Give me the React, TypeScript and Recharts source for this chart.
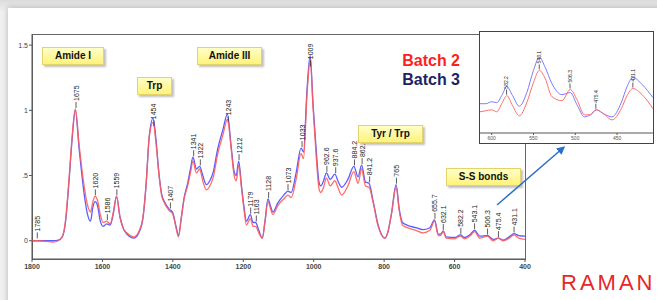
import React from "react"
import {
  ComposedChart,
  Line,
  Scatter,
  XAxis,
  YAxis,
} from "recharts"

// main spectrum (wavenumber, cm-1)
const wavenumbers = [
  1800, 1785, 1760, 1740, 1725, 1714, 1705, 1695, 1686, 1677, 1666, 1652, 1643,
  1634, 1627, 1621, 1614, 1606, 1598, 1588, 1578, 1569, 1560, 1550, 1540, 1530,
  1510, 1495, 1485, 1476, 1467, 1456, 1448, 1440, 1432, 1424, 1410, 1401, 1391,
  1384, 1376, 1368, 1358, 1350, 1343, 1333, 1324, 1315, 1305, 1295, 1285, 1273,
  1258, 1245, 1235, 1226, 1220, 1213, 1205, 1198, 1191, 1180, 1172, 1165, 1156,
  1146, 1138, 1130, 1122, 1116, 1102, 1085, 1073, 1064, 1050, 1036, 1029, 1019,
  1010, 1002, 993, 985, 980, 972, 964, 953, 940, 930, 921, 903, 886, 874, 864,
  853, 843, 831, 817, 808, 798, 789, 779, 766, 757, 748, 735, 710, 690, 670, 657,
  646, 640, 632, 624, 600, 583, 572, 555, 543, 528, 507, 490, 476, 462, 445, 431,
  418, 400,
]
const batch2 = [
  0, 0, -0.005, -0.01, 0, 0.03, 0.15, 0.47, 0.8, 1.01, 0.73, 0.42, 0.28, 0.22,
  0.3, 0.34, 0.31, 0.2, 0.14, 0.15, 0.13, 0.22, 0.34, 0.18, 0.09, 0.06, 0.03,
  0.08, 0.18, 0.43, 0.8, 0.91, 0.75, 0.52, 0.35, 0.29, 0.23, 0.21, 0.1, 0.03,
  0.17, 0.32, 0.42, 0.52, 0.61, 0.52, 0.55, 0.46, 0.39, 0.42, 0.49, 0.66, 0.81,
  0.93, 0.72, 0.5, 0.46, 0.58, 0.4, 0.24, 0.12, 0.17, 0.11, 0.11, 0.06, 0.02,
  0.15, 0.3, 0.24, 0.2, 0.27, 0.32, 0.35, 0.33, 0.47, 0.67, 0.63, 1.12, 1.39,
  1.03, 0.65, 0.4, 0.37, 0.41, 0.48, 0.42, 0.46, 0.4, 0.35, 0.42, 0.53, 0.44,
  0.55, 0.42, 0.41, 0.29, 0.11, 0.05, 0.02, 0.07, 0.21, 0.41, 0.23, 0.12, 0.1,
  0.08, 0.06, 0.08, 0.15, 0.04, 0.04, 0.07, 0.02, 0.015, 0.035, 0.015, 0.04,
  0.07, 0.02, 0.035, 0, 0.02, 0, 0.02, 0.045, 0.02, 0.01,
]
const batch3 = [
  0, 0, 0, 0, 0.005, 0.03, 0.14, 0.45, 0.78, 1.0, 0.7, 0.36, 0.21, 0.15, 0.26,
  0.3, 0.27, 0.15, 0.11, 0.13, 0.12, 0.21, 0.34, 0.18, 0.09, 0.05, 0.02, 0.07,
  0.17, 0.43, 0.8, 0.94, 0.78, 0.53, 0.36, 0.3, 0.24, 0.22, 0.11, 0.04, 0.18,
  0.33, 0.44, 0.55, 0.64, 0.55, 0.57, 0.5, 0.43, 0.46, 0.53, 0.7, 0.85, 0.97,
  0.74, 0.53, 0.5, 0.61, 0.42, 0.26, 0.15, 0.2, 0.14, 0.14, 0.08, 0.02, 0.16,
  0.32, 0.26, 0.22, 0.29, 0.35, 0.38, 0.37, 0.52, 0.71, 0.68, 1.16, 1.42, 1.05,
  0.7, 0.45, 0.42, 0.46, 0.52, 0.47, 0.51, 0.45, 0.41, 0.47, 0.57, 0.49, 0.58,
  0.45, 0.44, 0.3, 0.12, 0.05, 0.02, 0.07, 0.21, 0.43, 0.24, 0.14, 0.12, 0.1,
  0.085, 0.1, 0.16, 0.05, 0.05, 0.075, 0.03, 0.025, 0.045, 0.025, 0.05, 0.08,
  0.035, 0.04, 0.01, 0.02, 0.005, 0.03, 0.055, 0.04, 0.035,
]

const peakLabels = [
  "1785", "1675", "1620", "1586", "1559", "1454", "1407", "1341", "1322", "1243",
  "1212", "1179", "1163", "1128", "1073", "1033", "1009", "962.6", "937.6",
  "884.2", "862.5", "841.2", "765", "655.7", "632.1", "582.2", "543.1", "506.3",
  "475.4", "431.1",
]
// where each label's leader line starts
const peakTops = [
  0.01, 1.01, 0.34, 0.15, 0.34, 0.87, 0.24, 0.64, 0.57, 0.9, 0.61, 0.2, 0.14,
  0.32, 0.38, 0.71, 1.33, 0.52, 0.51, 0.57, 0.58, 0.44, 0.43, 0.16, 0.075, 0.045,
  0.08, 0.04, 0.02, 0.055,
]

const xTicks = [1800, 1600, 1400, 1200, 1000, 800, 600, 400]
const yTicks = [0, 0.5, 1, 1.5]

// inset: zoom on the S-S region
const insetX = [
  614, 607, 600, 594, 588, 582, 575, 567, 558, 550, 543, 536, 528, 516, 506, 498,
  489, 482, 475, 466, 456, 445, 438, 431, 420, 407,
]
const insetBatch2 = [
  0.21, 0.22, 0.23, 0.21, 0.29, 0.37, 0.27, 0.17, 0.3, 0.5, 0.62, 0.54, 0.36,
  0.32, 0.43, 0.33, 0.18, 0.18, 0.23, 0.19, 0.13, 0.24, 0.37, 0.44, 0.38, 0.24,
]
const insetBatch3 = [
  0.29, 0.29, 0.31, 0.3, 0.37, 0.46, 0.37, 0.265, 0.4, 0.62, 0.75, 0.65, 0.49,
  0.38, 0.4, 0.28, 0.16, 0.18, 0.23, 0.19, 0.16, 0.3, 0.46, 0.55, 0.48, 0.35,
]
const insetLabels = ["582.2", "543.1", "506.3", "475.4", "431.1"]
const insetTops = [0.37, 0.62, 0.43, 0.23, 0.44]
const insetTicks = [600, 550, 500, 450]

const RED = "#ff5c5c"
const BLUE = "#5c5cff"
const FONT = "'Liberation Sans', Arial, sans-serif"

const spectrum = wavenumbers.map((x, i) => ({ x, b2: batch2[i], b3: batch3[i] }))
const peaks = peakLabels.map((label, i) => ({
  x: parseFloat(label),
  y: peakTops[i],
  label,
}))
const inset = insetX.map((x, i) => ({ x, b2: insetBatch2[i], b3: insetBatch3[i] }))
const insetPeaks = insetLabels.map((label, i) => ({
  x: parseFloat(label),
  y: insetTops[i],
  label,
}))

function PeakMark({ cx, cy, label, fs, lead }: any) {
  if (cx == null || cy == null) return null
  return (
    <g>
      <line x1={cx} y1={cy - 1} x2={cx} y2={cy - lead} stroke="#333" strokeWidth={0.8} />
      <text
        transform={`translate(${cx + fs * 0.36},${cy - lead - 1}) rotate(-90)`}
        fontSize={fs}
        fontFamily={FONT}
        fill="#222"
      >
        {label}
      </text>
    </g>
  )
}

function Tag({ text, left, top, width }: { text: string; left: number; top: number; width: number }) {
  return (
    <div
      style={{
        position: "absolute",
        left,
        top,
        width,
        height: 18,
        boxSizing: "border-box",
        background: "linear-gradient(#ffffc8, #fff27a)",
        border: "1px solid #e3d36a",
        boxShadow: "2px 2px 2px rgba(0,0,0,0.25)",
        fontFamily: FONT,
        fontWeight: 700,
        fontSize: 10,
        lineHeight: "16px",
        textAlign: "center",
        color: "#111",
      }}
    >
      {text}
    </div>
  )
}

export default function App() {
  return (
    <div
      style={{
        position: "absolute",
        left: 0,
        top: 0,
        width: 657,
        height: 300,
        overflow: "hidden",
        background: "linear-gradient(#dcdcdc, #f0f0f0 12px)",
        fontFamily: FONT,
      }}
    >
      <div
        style={{
          position: "absolute",
          left: 8,
          top: 8,
          width: 660,
          height: 300,
          background: "#fff",
          boxShadow: "0 0 6px rgba(0,0,0,0.25)",
        }}
      />
      {/* plot frame */}
      <div
        style={{
          position: "absolute",
          left: 32,
          top: 34,
          width: 494,
          height: 226,
          boxSizing: "border-box",
          border: "1px solid #666",
        }}
      />
      <div style={{ position: "absolute", left: 0, top: 0 }}>
        <ComposedChart
          width={657}
          height={300}
          data={spectrum}
          margin={{ top: 34, right: 132, bottom: 21, left: 12 }}
        >
          <XAxis
            dataKey="x"
            type="number"
            domain={[400, 1800]}
            reversed
            ticks={xTicks}
            height={20}
            tickSize={3}
            tickMargin={2}
            stroke="#555"
            tick={{ fontSize: 7, fill: "#444", fontFamily: FONT, fontWeight: 700 }}
            allowDataOverflow
          />
          <YAxis
            type="number"
            domain={[-0.14, 1.585]}
            ticks={yTicks}
            width={20}
            tickSize={3}
            tickMargin={1}
            stroke="#555"
            tick={{ fontSize: 7, fill: "#444", fontFamily: FONT }}
            tickFormatter={(v: number) => (v === 0.5 ? ".5" : String(v))}
            allowDataOverflow
          />
          <Line
            dataKey="b3"
            type="monotone"
            stroke={BLUE}
            strokeWidth={1.3}
            dot={false}
            isAnimationActive={false}
          />
          <Line
            dataKey="b2"
            type="monotone"
            stroke={RED}
            strokeWidth={1.3}
            strokeOpacity={0.9}
            dot={false}
            isAnimationActive={false}
          />
          <Scatter
            data={peaks}
            dataKey="y"
            isAnimationActive={false}
            shape={(p: any) => (
              <PeakMark cx={p.cx} cy={p.cy} label={p.payload?.label} fs={7} lead={7} />
            )}
          />
        </ComposedChart>
      </div>

      <Tag text="Amide I" left={42} top={47} width={62} />
      <Tag text="Trp" left={137} top={77} width={35} />
      <Tag text="Amide III" left={197} top={47} width={65} />
      <Tag text="Tyr / Trp" left={358} top={125} width={65} />
      <Tag text="S-S bonds" left={446} top={168} width={75} />

      <div
        style={{
          position: "absolute",
          left: 330,
          top: 51,
          width: 130,
          textAlign: "right",
          fontWeight: 700,
          fontSize: 16,
          lineHeight: "19px",
        }}
      >
        <div style={{ color: "#ff1f1f" }}>Batch 2</div>
        <div style={{ color: "#1c2466" }}>Batch 3</div>
      </div>

      <svg
        width={657}
        height={300}
        style={{ position: "absolute", left: 0, top: 0, pointerEvents: "none" }}
      >
        <defs>
          <marker id="ah" markerWidth="6" markerHeight="6" refX="4" refY="3" orient="auto">
            <path d="M0,0 L6,3 L0,6 z" fill="#2a6fc4" />
          </marker>
        </defs>
        <line
          x1={497}
          y1={205}
          x2={563}
          y2={148}
          stroke="#2a6fc4"
          strokeWidth={1.4}
          markerEnd="url(#ah)"
        />
      </svg>

      {/* inset */}
      <div
        style={{
          position: "absolute",
          left: 479,
          top: 31,
          width: 175,
          height: 113,
          boxSizing: "border-box",
          border: "1px solid #444",
          background: "#fff",
        }}
      >
        <ComposedChart
          width={173}
          height={111}
          data={inset}
          margin={{ top: 0, right: 0, bottom: 0, left: 0 }}
        >
          <XAxis
            dataKey="x"
            type="number"
            domain={[407, 614]}
            reversed
            ticks={insetTicks}
            height={10}
            tickSize={2}
            tickMargin={1}
            stroke="#555"
            tick={{ fontSize: 5, fill: "#555", fontFamily: FONT }}
            allowDataOverflow
          />
          <YAxis type="number" domain={[0, 1]} hide />
          <Line
            dataKey="b3"
            type="monotone"
            stroke="#7b7bff"
            strokeWidth={1}
            dot={false}
            isAnimationActive={false}
          />
          <Line
            dataKey="b2"
            type="monotone"
            stroke="#ff6e6e"
            strokeWidth={1}
            dot={false}
            isAnimationActive={false}
          />
          <Scatter
            data={insetPeaks}
            dataKey="y"
            isAnimationActive={false}
            shape={(p: any) => (
              <PeakMark cx={p.cx} cy={p.cy} label={p.payload?.label} fs={5} lead={6} />
            )}
          />
        </ComposedChart>
      </div>

      <div
        style={{
          position: "absolute",
          left: 561,
          top: 270,
          fontSize: 22,
          letterSpacing: 3,
          color: "#e8262a",
        }}
      >
        RAMAN
      </div>
    </div>
  )
}
